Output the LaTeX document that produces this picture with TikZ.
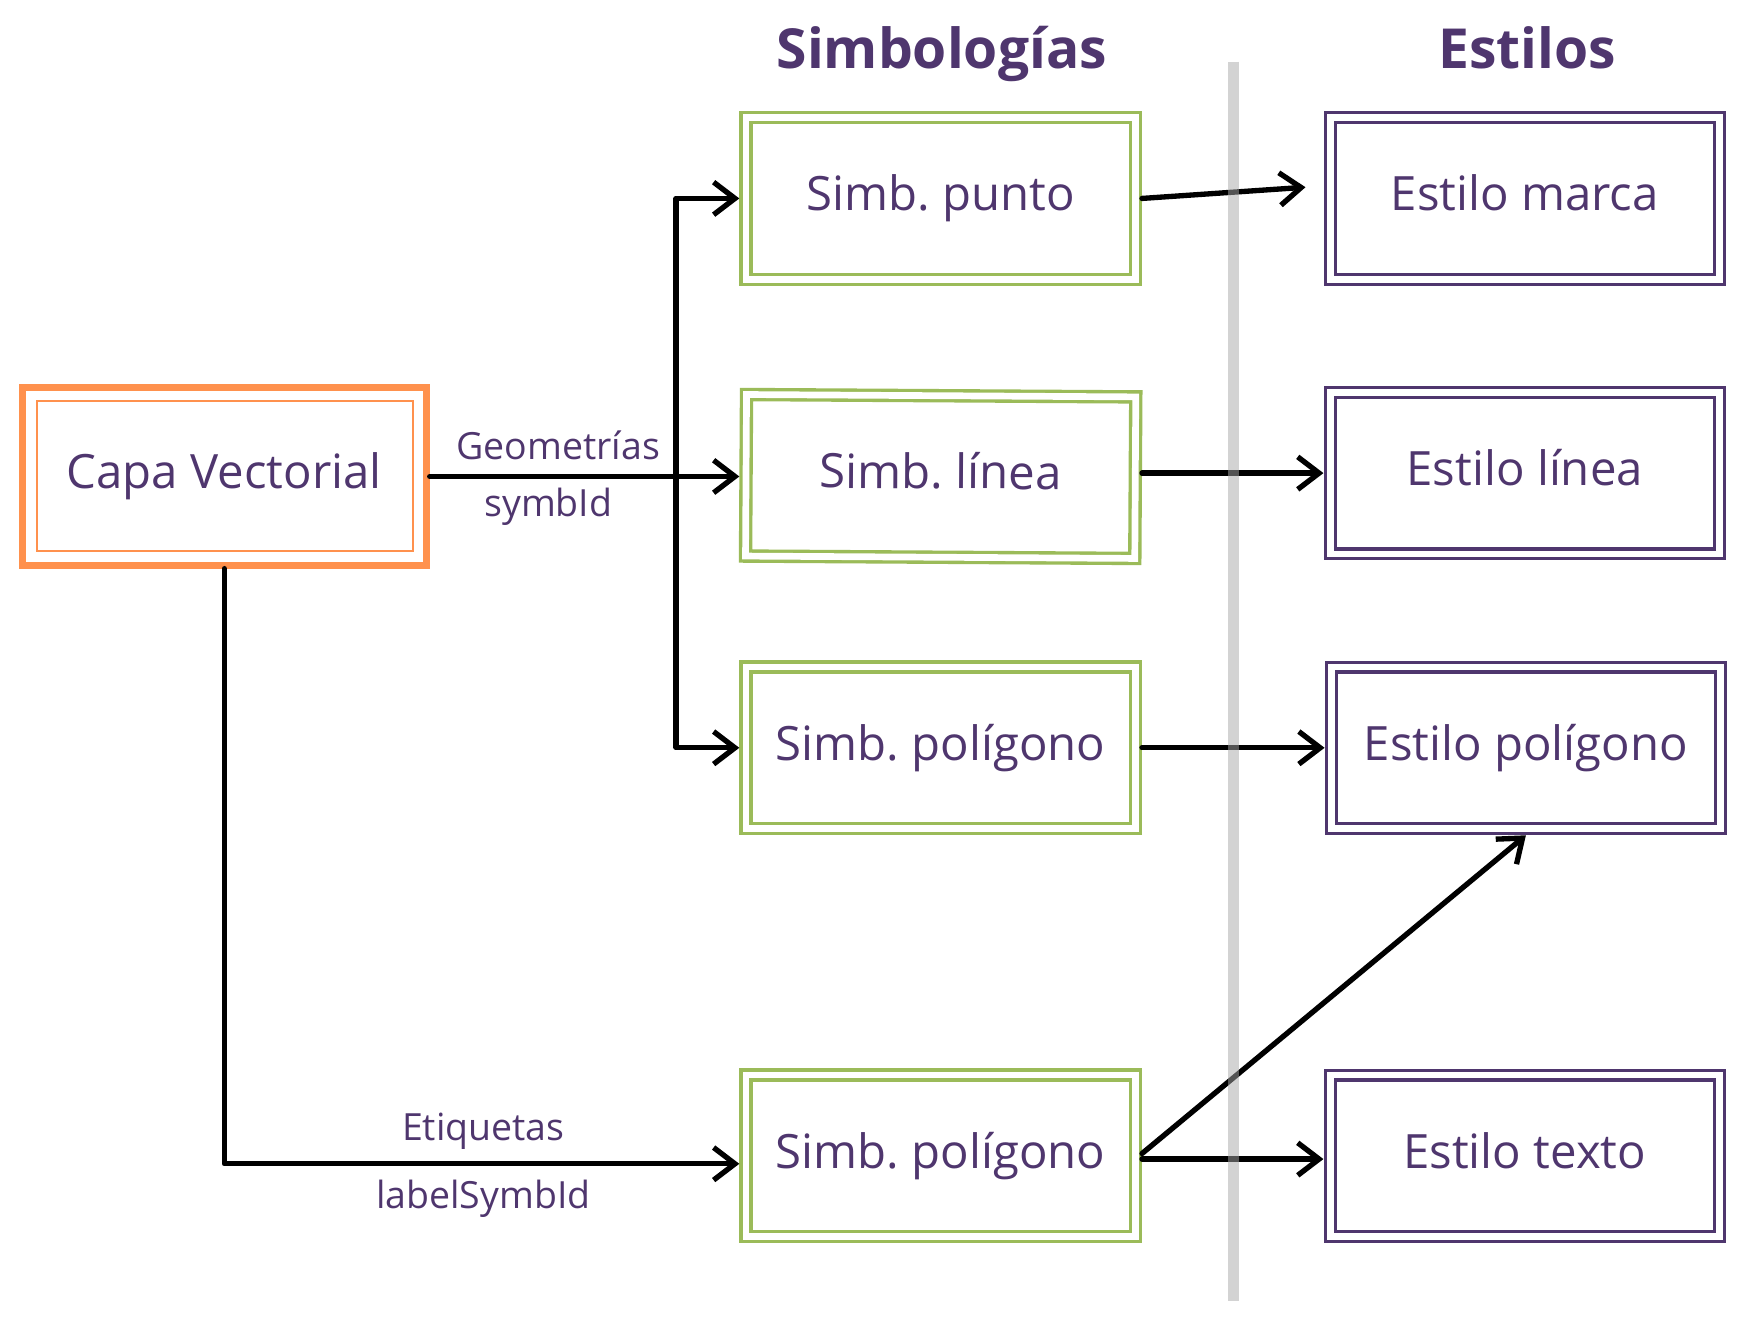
\documentclass[tikz,border=0pt]{standalone}
\usepackage{fontspec}
\setmainfont{Open Sans}
\usepackage{tikz}
\usetikzlibrary{arrows.meta}
\definecolor{morado}{HTML}{4F366E}
\definecolor{naranja}{HTML}{FF914D}
\definecolor{verde}{HTML}{9BBB59}
\definecolor{gris}{HTML}{A8A8A8}
\frenchspacing

\begin{document}
\begin{tikzpicture}[x=0.01cm, y=-0.01cm,
        every node/.style={text=morado, font=\fontsize{12}{14}\selectfont},
        simbolo/.style={draw=verde, line width=0.85pt, double=white, double distance=1.7pt,
                        minimum width=3.47cm, minimum height=1.44cm, inner sep=0pt, outer sep=1.7pt,
                        text height=9.1pt, text depth=2.9pt},
        estilo/.style={simbolo, draw=morado, line width=0.8pt},
        capa/.style={draw=naranja, line width=1.8pt, minimum width=3.6cm, minimum height=1.58cm,
                     inner sep=0pt, outer sep=0.9pt, text height=9.1pt, text depth=2.9pt},
        titulo/.style={font=\fontsize{14}{16}\selectfont\bfseries, anchor=base},
        etiqueta/.style={font=\fontsize{9.5}{11}\selectfont},
        flecha/.style={draw=black, line width=1.35pt, line cap=round, line join=round,
                       -{Straight Barb[length=1.9mm, width=2.9mm]}}
    ]
            \useasboundingbox (0,0) rectangle (1568,1186);

            %titles
            \node[titulo] (tsimb) at (840,61) {Simbologías};
            \node[titulo] (testilos) at (1362,61) {Estilos};

            %layer
            \node[capa] (capa) at (200,425) {Capa Vectorial};
            \draw[naranja, line width=0.6pt] ([shift={(16,15)}]capa.north west) rectangle ([shift={(-15,-16)}]capa.south east);

            %symbologies
            \node[simbolo] (punto) at (839,177) {Simb. punto};
            \node[simbolo, rotate=-0.35] (linea) at (839,425) {Simb. línea};
            \node[simbolo] (poligono) at (839,667) {Simb. polígono};
            \node[simbolo] (poligonoB) at (839,1031) {Simb. polígono};

            %styles
            \node[estilo] (marca) at (1360,177) {Estilo marca};
            \node[estilo] (elinea) at (1360,422) {Estilo línea};
            \node[estilo] (epoligono) at (1361,667) {Estilo polígono};
            \node[estilo] (etexto) at (1360,1031) {Estilo texto};

            %arrows from the layer
            \coordinate (bifur) at (603,425);
            \draw[flecha] (capa.east) -- (linea.west |- capa.east);
            \draw[flecha] (bifur) |- (punto.west);
            \draw[flecha] (bifur) |- (poligono.west);
            \draw[flecha] (capa.south) |- ([yshift=-2pt]poligonoB.west);

            \node[etiqueta] (geom) at (498,397) {Geometrías};
            \node[etiqueta] (symbid) at (489,452) {symbId};
            \node[etiqueta] (etiq) at (431,1009) {Etiquetas};
            \node[etiqueta] (labelid) at (431,1069) {labelSymbId};

            %arrows to the styles
            \draw[flecha] (punto.east) -- ([shift={(-16,-10)}]marca.west);
            \draw[flecha] (linea.east |- elinea.west) -- (elinea.west);
            \draw[flecha] (poligono.east) -- (epoligono.west);
            \draw[flecha] ([yshift=0.6pt]poligonoB.east) -- (epoligono.south);
            \draw[flecha] ([yshift=-0.8pt]poligonoB.east) -- ([yshift=-0.8pt]etexto.west);

            %divider
            \draw[gris, opacity=0.5, line width=2.8pt] (1100,55) -- (1100,1160);
\end{tikzpicture}
\end{document}
